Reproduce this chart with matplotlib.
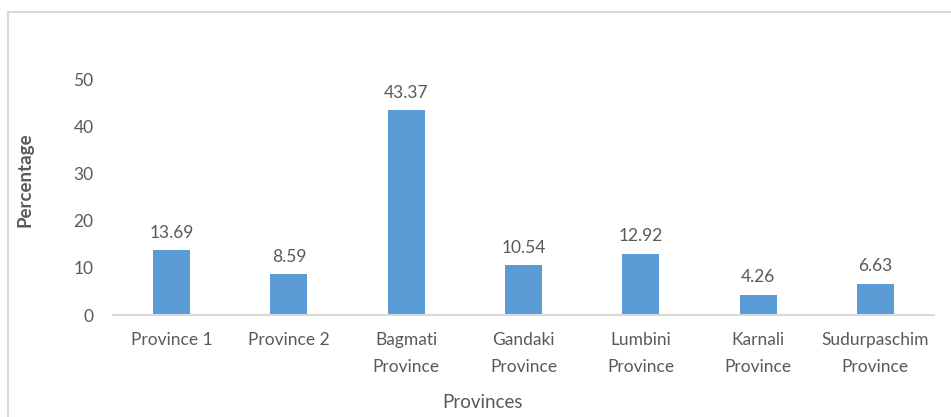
import matplotlib
matplotlib.use("Agg")
import matplotlib.pyplot as plt
from matplotlib.patches import Rectangle

plt.rcParams['font.family'] = ['Lato', 'DejaVu Sans']

provinces = ['Province 1', 'Province 2', 'Bagmati\nProvince', 'Gandaki\nProvince',
             'Lumbini\nProvince', 'Karnali\nProvince', 'Sudurpaschim\nProvince']
percentages = [13.69, 8.59, 43.37, 10.54, 12.92, 4.26, 6.63]
yticks = [0, 10, 20, 30, 40, 50]

barColor = '#5B9BD5'
textColor = '#595959'
lineColor = '#D9D9D9'

fig = plt.figure(figsize=(9.51, 4.17), dpi=100)
ax = fig.add_axes([113/951, 102/417, (934-113)/951, (315-79)/417])

x = list(range(len(provinces)))
bars = ax.bar(x, percentages, width=0.315, color=barColor, zorder=2)

for rect, val in zip(bars, percentages):
    ax.annotate(f'{val:.2f}', (rect.get_x() + rect.get_width()/2, rect.get_height()),
                xytext=(0, 7), textcoords='offset points', ha='center', va='bottom',
                fontsize=12.5, color=textColor)

ax.set_xlim(-0.5, len(provinces) - 0.5)
ax.set_ylim(0, 50)
ax.set_yticks(yticks)
ax.set_xticks(x, provinces, linespacing=1.85)

for side in ['top', 'right', 'left']:
    ax.spines[side].set_visible(False)
ax.spines['bottom'].set_color(lineColor)
ax.spines['bottom'].set_linewidth(1.5)
ax.tick_params(axis='both', length=0, labelsize=12.5, labelcolor=textColor)
ax.tick_params(axis='x', pad=12)
ax.tick_params(axis='y', pad=14)

fig.text(25/951, 1 - 180/417, 'Percentage', rotation=90, ha='center', va='center',
         fontsize=13.5, color=textColor, fontweight='bold')
fig.text(483/951, 1 - 402/417, 'Provinces', ha='center', va='center',
         fontsize=13.5, color=textColor)

# chart border (Excel chart area)
fig.patches.append(Rectangle((8/951, -0.1), 1.2, 1 - 12/417 + 0.1, transform=fig.transFigure,
                             fill=False, edgecolor='#D9D9D9', linewidth=1.5))

fig.savefig('out.png', dpi=100)
